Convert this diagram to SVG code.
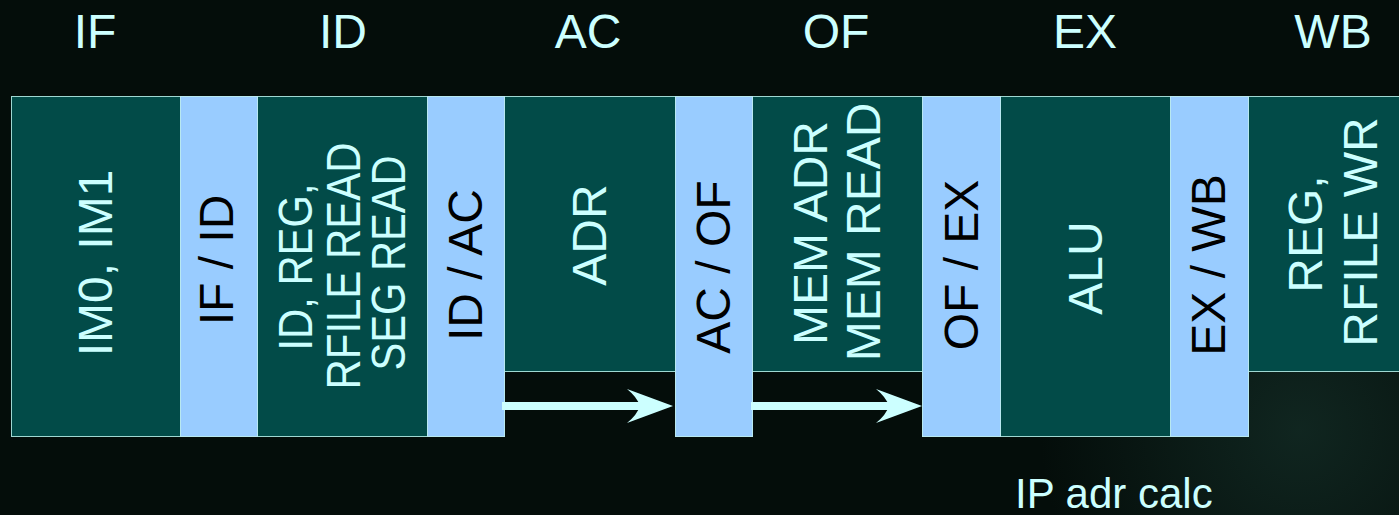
<svg xmlns="http://www.w3.org/2000/svg" width="1399" height="515" viewBox="0 0 1399 515">
<defs>
<style>
.bg{fill:#040d0a}
.stage{fill:#024b48;stroke:#9fd8d2;stroke-width:1}
.latch{fill:#99ccff;stroke:#b8e8f0;stroke-width:1}
.t{font-family:"Liberation Sans",Arial,sans-serif;font-size:48px;text-anchor:middle;fill:#ccffff}
.lt{font-family:"Liberation Sans",Arial,sans-serif;font-size:48px;text-anchor:middle;fill:#000000}
.note{font-family:"Liberation Sans",Arial,sans-serif;font-size:42px;fill:#ccffff}
.conn{stroke:#ccffff;stroke-width:8;fill:none}
</style>
<radialGradient id="glow" cx="1300" cy="430" r="260" gradientUnits="userSpaceOnUse">
<stop offset="0" stop-color="#1a3a32" stop-opacity="0.55"/>
<stop offset="1" stop-color="#1a3a32" stop-opacity="0"/>
</radialGradient>
<marker id="arrow" markerUnits="userSpaceOnUse" markerWidth="50" markerHeight="36" refX="13" refY="17" orient="auto" viewBox="0 0 50 36">
<path d="M46,17 L0,0 Q10,8 13,17 Q10,26 0,34 Z" fill="#ccffff"/>
</marker>
</defs>
<rect class="bg" x="0" y="0" width="1399" height="515"/>
<rect x="0" y="0" width="1399" height="515" fill="url(#glow)"/>

<g id="headers">
<text class="t" x="95" y="48">IF</text>
<text class="t" x="343" y="48">ID</text>
<text class="t" x="588" y="48">AC</text>
<text class="t" x="836" y="48">OF</text>
<text class="t" x="1085" y="48">EX</text>
<text class="t" x="1333" y="48">WB</text>
</g>

<g id="stage-if">
<rect class="stage" x="11.5" y="96.5" width="169" height="340"/>
<text class="t" x="112" y="263" transform="rotate(-90 112 263)">IM0, IM1</text>
</g>
<g id="stage-id">
<rect class="stage" x="257.5" y="96.5" width="170" height="340"/>
<text class="t" x="312" y="267" transform="rotate(-90 312 267)" textLength="167" lengthAdjust="spacingAndGlyphs">ID, REG,</text>
<text class="t" x="360" y="266" transform="rotate(-90 360 266)" textLength="247" lengthAdjust="spacingAndGlyphs">RFILE READ</text>
<text class="t" x="405" y="263" transform="rotate(-90 405 263)" textLength="215" lengthAdjust="spacingAndGlyphs">SEG READ</text>
</g>
<g id="stage-ac">
<rect class="stage" x="504.5" y="96.5" width="171" height="275"/>
<text class="t" x="606" y="235" transform="rotate(-90 606 235)">ADR</text>
</g>
<g id="stage-of">
<rect class="stage" x="752.5" y="96.5" width="170" height="275"/>
<text class="t" x="827" y="233" transform="rotate(-90 827 233)">MEM ADR</text>
<text class="t" x="880" y="232" transform="rotate(-90 880 232)">MEM READ</text>
</g>
<g id="stage-ex">
<rect class="stage" x="1000.5" y="96.5" width="170" height="340"/>
<text class="t" x="1102" y="268" transform="rotate(-90 1102 268)">ALU</text>
</g>
<g id="stage-wb">
<rect class="stage" x="1248.5" y="96.5" width="170" height="275"/>
<text class="t" x="1322" y="234" transform="rotate(-90 1322 234)">REG,</text>
<text class="t" x="1377" y="232" transform="rotate(-90 1377 232)">RFILE WR</text>
</g>

<g id="latch-if-id">
<rect class="latch" x="180.5" y="96.5" width="77" height="340"/>
<text class="lt" x="233" y="260" transform="rotate(-90 233 260)">IF / ID</text>
</g>
<g id="latch-id-ac">
<rect class="latch" x="427.5" y="96.5" width="77" height="340"/>
<text class="lt" x="482" y="265" transform="rotate(-90 482 265)">ID / AC</text>
</g>
<g id="latch-ac-of">
<rect class="latch" x="675.5" y="96.5" width="77" height="340"/>
<text class="lt" x="730" y="267" transform="rotate(-90 730 267)">AC / OF</text>
</g>
<g id="latch-of-ex">
<rect class="latch" x="922.5" y="96.5" width="78" height="340"/>
<text class="lt" x="978" y="265" transform="rotate(-90 978 265)">OF / EX</text>
</g>
<g id="latch-ex-wb">
<rect class="latch" x="1170.5" y="96.5" width="78" height="340"/>
<text class="lt" x="1225" y="265" transform="rotate(-90 1225 265)">EX / WB</text>
</g>

<g id="connectors">
<line class="conn" x1="502" y1="406" x2="640" y2="406" marker-end="url(#arrow)"/>
<line class="conn" x1="751" y1="406" x2="889" y2="406" marker-end="url(#arrow)"/>
</g>

<g id="note">
<text class="note" x="1015" y="508">IP adr calc</text>
</g>
</svg>
